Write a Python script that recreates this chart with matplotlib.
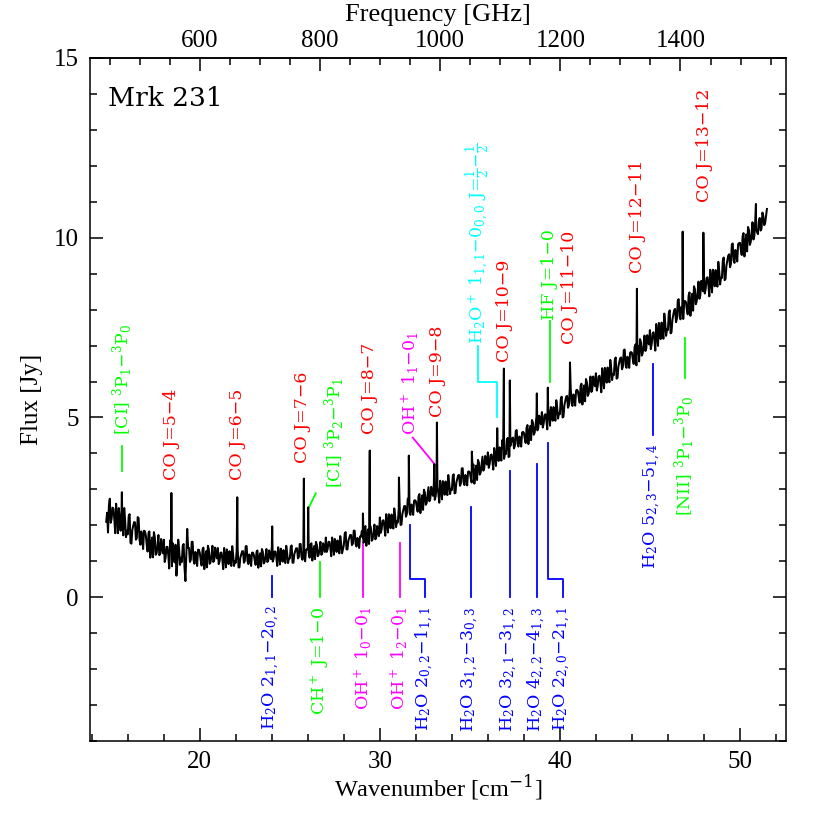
import numpy as np
import matplotlib
matplotlib.use("Agg")
import matplotlib.pyplot as plt
from matplotlib.ticker import MultipleLocator

# ---------------- data ----------------
# spectrum: values every 0.1 cm^-1 from 14.8 cm^-1 ...
wn_start = 14.8
wn_step = 0.1
flux_cont = [
    2.1, 1.8,
    2.74, 2.18, 2.47, 1.78, 2.26, 2.48, 1.85, 2.0, 2.48, 1.67,
    1.75, 2.31, 1.49, 1.98, 2.08, 1.65, 2.2, 1.46, 1.68, 1.85,
    1.72, 1.27, 1.83, 1.44, 1.11, 1.67, 1.22, 1.73, 1.21, 1.36,
    1.6, 1.1, 1.4, 0.8, 1.28, 1.5, 0.97, 0.6, 1.6, 0.9,
    0.98, 1.48, 0.45, 1.9, 1.37, 1.04, 1.54, 0.93, 1.15, 1.32,
    1.23, 0.88, 1.38, 1.08, 0.83, 1.33, 0.98, 1.43, 1.03, 1.18,
    1.37, 1.01, 1.24, 0.78, 1.15, 1.33, 0.92, 1.05, 1.42, 0.87,
    0.96, 1.37, 0.83, 1.19, 1.28, 1.01, 1.42, 0.92, 1.1, 1.24,
    1.18, 0.9, 1.3, 1.06, 0.86, 1.26, 0.98, 1.34, 1.02, 1.14,
    1.39, 1.07, 1.27, 0.87, 1.19, 1.35, 0.99, 1.11, 1.43, 0.95,
    1.08, 1.44, 0.96, 1.28, 1.36, 1.12, 1.48, 1.04, 1.2, 1.32,
    1.38, 1.1, 1.5, 1.26, 1.06, 1.46, 1.18, 1.54, 1.22, 1.34,
    1.66, 1.34, 1.54, 1.14, 1.46, 1.62, 1.26, 1.38, 1.7, 1.22,
    1.45, 1.81, 1.33, 1.65, 1.73, 1.49, 1.85, 1.41, 1.57, 1.69,
    1.84, 1.52, 1.98, 1.7, 1.48, 1.93, 1.61, 2.02, 1.66, 1.8,
    2.22, 1.89, 2.14, 1.71, 2.1, 2.31, 1.92, 2.08, 2.47, 1.95,
    2.08, 2.53, 2.02, 2.42, 2.54, 2.31, 2.75, 2.29, 2.5, 2.68,
    2.67, 2.38, 2.87, 2.62, 2.43, 2.91, 2.62, 3.06, 2.73, 2.9,
    3.15, 2.81, 3.07, 2.63, 3.03, 3.23, 2.85, 3.0, 3.4, 2.87,
    2.98, 3.42, 2.9, 3.29, 3.4, 3.16, 3.59, 3.12, 3.32, 3.49,
    3.47, 3.19, 3.69, 3.45, 3.26, 3.75, 3.47, 3.91, 3.59, 3.77,
    4.03, 3.71, 3.97, 3.55, 3.95, 4.17, 3.79, 3.96, 4.37, 3.85,
    3.98, 4.43, 3.92, 4.32, 4.44, 4.21, 4.65, 4.19, 4.4, 4.58,
    4.57, 4.29, 4.79, 4.55, 4.37, 4.86, 4.58, 5.03, 4.71, 4.89,
    5.15, 4.83, 5.09, 4.67, 5.07, 5.29, 4.91, 5.08, 5.48, 4.97,
    5.09, 5.58, 5.02, 5.46, 5.6, 5.34, 5.83, 5.32, 5.56, 5.75,
    5.73, 5.41, 5.94, 5.67, 5.45, 5.98, 5.66, 6.14, 5.77, 5.95,
    6.23, 5.87, 6.16, 5.7, 6.14, 6.38, 5.97, 6.16, 6.6, 6.04,
    6.18, 6.67, 6.1, 6.54, 6.67, 6.41, 6.89, 6.38, 6.61, 6.8,
    6.8, 6.49, 7.03, 6.77, 6.56, 7.1, 6.79, 7.28, 6.92, 7.11,
    7.43, 7.04, 7.37, 6.86, 7.36, 7.63, 7.18, 7.39, 7.89, 7.27,
    7.43, 7.98, 7.37, 7.86, 8.02, 7.74, 8.29, 7.73, 8.0, 8.22,
    8.21, 7.87, 8.48, 8.19, 7.97, 8.57, 8.23, 8.78, 8.39, 8.61,
    8.98, 8.58, 8.9, 8.37, 8.86, 9.11, 8.65, 8.84, 9.33, 8.7,
    8.88, 9.45, 8.85, 9.36, 9.54, 9.27, 9.84, 9.3, 9.58, 9.82,
    9.86, 9.52, 10.13, 9.84, 9.62, 10.22, 9.88, 10.43, 10.04, 10.26,
    10.1, 10.55, 10.25, 10.6, 10.4, 10.8,
]
# ... and the in-between samples at 14.85, 14.95, ... cm^-1
flux_mid = [
    2.35, 2.55,
    2.07, 2.49, 2.18, 2.6, 1.78, 2.2, 2.35, 1.72, 2.15, 1.85,
    2.26, 1.51, 1.87, 2.09, 1.6, 2.23, 1.6, 1.83, 1.34, 1.83,
    1.46, 1.79, 1.1, 1.66, 1.81, 1.18, 1.44, 1.17, 1.62, 1.22,
    0.98, 1.4, 1.16, 1.58, 0.86, 1.28, 1.46, 0.92, 1.34, 1.1,
    1.43, 0.82, 1.15, 1.37, 0.98, 1.54, 1.04, 1.26, 0.87, 1.32,
    1.03, 1.33, 0.78, 1.28, 1.43, 0.93, 1.18, 0.98, 1.38, 1.08,
    0.92, 1.24, 1.05, 1.37, 0.83, 1.15, 1.28, 0.87, 1.19, 1.01,
    1.33, 0.83, 1.1, 1.28, 0.96, 1.42, 1.01, 1.19, 0.87, 1.24,
    1.02, 1.26, 0.82, 1.22, 1.34, 0.94, 1.14, 0.98, 1.3, 1.06,
    0.99, 1.27, 1.11, 1.39, 0.91, 1.19, 1.31, 0.95, 1.23, 1.07,
    1.4, 0.96, 1.2, 1.36, 1.08, 1.48, 1.12, 1.28, 1.0, 1.32,
    1.22, 1.46, 1.02, 1.42, 1.54, 1.14, 1.34, 1.18, 1.5, 1.26,
    1.26, 1.54, 1.38, 1.66, 1.18, 1.46, 1.58, 1.22, 1.5, 1.34,
    1.77, 1.33, 1.57, 1.73, 1.45, 1.85, 1.49, 1.65, 1.37, 1.69,
    1.66, 1.93, 1.43, 1.89, 2.02, 1.57, 1.8, 1.61, 1.98, 1.7,
    1.79, 2.13, 1.97, 2.31, 1.8, 2.14, 2.3, 1.91, 2.26, 2.11,
    2.47, 2.01, 2.31, 2.53, 2.24, 2.74, 2.36, 2.58, 2.29, 2.7,
    2.51, 2.81, 2.34, 2.83, 2.99, 2.57, 2.83, 2.67, 3.07, 2.82,
    2.71, 3.06, 2.89, 3.24, 2.72, 3.07, 3.22, 2.84, 3.18, 3.02,
    3.37, 2.89, 3.19, 3.39, 3.1, 3.58, 3.2, 3.4, 3.11, 3.5,
    3.31, 3.62, 3.16, 3.66, 3.82, 3.41, 3.68, 3.52, 3.93, 3.69,
    3.6, 3.95, 3.8, 4.15, 3.65, 4.0, 4.17, 3.8, 4.15, 4.01,
    4.37, 3.9, 4.21, 4.42, 4.14, 4.63, 4.26, 4.47, 4.19, 4.6,
    4.41, 4.72, 4.26, 4.76, 4.93, 4.52, 4.79, 4.64, 5.05, 4.81,
    4.72, 5.07, 4.92, 5.27, 4.77, 5.12, 5.29, 4.91, 5.27, 5.13,
    5.51, 5.0, 5.34, 5.58, 5.27, 5.81, 5.4, 5.64, 5.33, 5.77,
    5.55, 5.88, 5.36, 5.89, 6.07, 5.6, 5.88, 5.71, 6.14, 5.87,
    5.75, 6.14, 5.98, 6.37, 5.81, 6.2, 6.39, 5.98, 6.37, 6.21,
    6.6, 6.08, 6.42, 6.65, 6.34, 6.87, 6.46, 6.69, 6.38, 6.82,
    6.62, 6.96, 6.45, 6.99, 7.18, 6.72, 7.01, 6.85, 7.29, 7.03,
    6.9, 7.34, 7.16, 7.6, 6.99, 7.43, 7.64, 7.19, 7.63, 7.46,
    7.9, 7.34, 7.72, 7.99, 7.65, 8.26, 7.81, 8.08, 7.74, 8.24,
    8.01, 8.39, 7.83, 8.44, 8.65, 8.15, 8.48, 8.3, 8.8, 8.51,
    8.45, 8.88, 8.68, 9.11, 8.48, 8.91, 9.1, 8.64, 9.07, 8.89,
    9.36, 8.82, 9.22, 9.5, 9.18, 9.81, 9.37, 9.66, 9.34, 9.85,
    9.67, 10.04, 9.48, 10.09, 10.3, 9.8, 10.13, 9.95, 10.45, 10.16,
    10.45, 10.2, 10.7, 10.35, 10.6,
]
# narrow emission-line spikes (observed wavenumber, peak flux)
peak_wn = [15.67, 18.42, 22.08, 24.02, 25.78, 26.02, 29.06, 29.44, 31.06, 31.61,
           33.02, 33.17, 35.11, 36.52, 36.89, 37.22, 38.72, 39.33, 40.56, 44.28,
           46.82, 47.97, 50.89]
peak_flux = [2.92, 2.9, 2.78, 1.97, 3.3, 2.5, 2.33, 4.08, 3.33, 3.94,
             3.7, 4.86, 4.05, 4.7, 6.36, 6.03, 5.67, 5.83, 6.53, 8.58,
             10.17, 10.14, 10.94]

RED, GREEN, BLUE, MAG, CYAN = "#ff0000", "#00ff00", "#0000ff", "#ff00ff", "#00ffff"

# labels above the spectrum: (text, wavenumber, flux at text base, colour)
top_labels = [
    ("[CI] $^3$P$_1$\u2212$^3$P$_0$", 15.72, 4.5, GREEN),
    ("CO J=5\u22124", 18.42, 3.25, RED),
    ("CO J=6\u22125", 22.08, 3.25, RED),
    ("CO J=7\u22126", 25.72, 3.72, RED),
    ("[CI] $^3$P$_2$\u2212$^3$P$_1$", 27.5, 3.03, GREEN),
    ("CO J=8\u22127", 29.44, 4.55, RED),
    ("OH$^+$ 1$_1$\u22120$_1$", 31.7, 4.5, MAG),
    ("CO J=9\u22128", 33.2, 5.0, RED),
    ("H$_2$O$^+$ 1$_{1,1}$\u22120$_{0,0}$ J=$\\frac{1}{2}$\u2212$\\frac{1}{2}$", 35.44, 7.05, CYAN),
    ("CO J=10\u22129", 36.94, 6.53, RED),
    ("HF J=1\u22120", 39.44, 7.72, GREEN),
    ("CO J=11\u221210", 40.56, 7.05, RED),
    ("CO J=12\u221211", 44.33, 9.03, RED),
    ("CO J=13\u221212", 48.06, 11.0, RED),
]
# labels below the spectrum: (text, wavenumber, flux at text top, colour)
bottom_labels = [
    ("H$_2$O 2$_{1,1}$\u22122$_{0,2}$", 24.0, -0.22, BLUE),
    ("CH$^+$ J=1\u22120", 26.67, -0.27, GREEN),
    ("OH$^+$ 1$_0$\u22120$_1$", 29.06, -0.27, MAG),
    ("OH$^+$ 1$_2$\u22120$_1$", 31.11, -0.27, MAG),
    ("H$_2$O 2$_{0,2}$\u22121$_{1,1}$", 32.5, -0.27, BLUE),
    ("H$_2$O 3$_{1,2}$\u22123$_{0,3}$", 35.06, -0.27, BLUE),
    ("H$_2$O 3$_{2,1}$\u22123$_{1,2}$", 37.22, -0.27, BLUE),
    ("H$_2$O 4$_{2,2}$\u22124$_{1,3}$", 38.72, -0.27, BLUE),
    ("H$_2$O 2$_{2,0}$\u22122$_{1,1}$", 40.17, -0.27, BLUE),
    ("H$_2$O 5$_{2,3}$\u22125$_{1,4}$", 45.17, 4.28, BLUE),
    ("[NII] $^3$P$_1$\u2212$^3$P$_0$", 46.94, 5.6, GREEN),
]
# marker lines: (list of wavenumbers, list of fluxes, colour)
markers = [
    ([15.67, 15.67], [3.5, 4.22], GREEN),
    ([26.06, 26.44], [2.5, 2.89], GREEN),
    ([31.83, 33.06], [4.44, 3.69], MAG),
    ([35.44, 35.44, 36.5, 36.5], [7.0, 6.0, 6.0, 5.0], CYAN),
    ([39.44, 39.44], [6.0, 7.68], GREEN),
    ([24.0, 24.0], [0.58, 0.0], BLUE),
    ([26.67, 26.67], [0.97, 0.0], GREEN),
    ([29.06, 29.06], [1.5, 0.0], MAG),
    ([31.11, 31.11], [1.5, 0.0], MAG),
    ([31.67, 31.67, 32.5, 32.5], [2.0, 0.5, 0.5, 0.0], BLUE),
    ([35.06, 35.06], [2.5, 0.0], BLUE),
    ([37.22, 37.22], [3.5, 0.0], BLUE),
    ([38.72, 38.72], [3.7, 0.0], BLUE),
    ([39.33, 39.33, 40.17, 40.17], [4.28, 0.5, 0.5, 0.0], BLUE),
    ([45.17, 45.17], [6.5, 4.5], BLUE),
    ([46.94, 46.94], [7.2, 6.1], GREEN),
]
GHZ_PER_CM = 29.9792458

# ---------------- plot ----------------
plt.rcParams["font.family"] = ["DejaVu Serif"]
plt.rcParams["mathtext.fontset"] = "dejavuserif"

fig = plt.figure(figsize=(8.3, 8.3), dpi=100)
ax = fig.add_axes([90 / 830, 1 - 741 / 830, 696 / 830, 683 / 830])

wn_grid = wn_start + wn_step * np.arange(len(flux_cont))
wn_half = wn_start + wn_step / 2 + wn_step * np.arange(len(flux_mid))
wn_all = np.concatenate([wn_grid, wn_half, peak_wn])
fl_all = np.concatenate([flux_cont, flux_mid, peak_flux])
order = np.argsort(wn_all, kind="stable")
ax.plot(wn_all[order], fl_all[order], color="black", lw=1.45, zorder=3)

for xs, ys, c in markers:
    ax.plot(xs, ys, color=c, lw=1.3, zorder=2)

lab_fs = 12.5
for txt, x, y, c in top_labels:
    ax.text(x, y, txt, rotation=90, ha="center", va="bottom", color=c,
            fontsize=lab_fs)
for txt, x, y, c in bottom_labels:
    ax.text(x, y, txt, rotation=90, ha="center", va="top", color=c,
            fontsize=lab_fs)

ax.text(0.026, 0.941, "Mrk 231", transform=ax.transAxes, fontsize=19,
        ha="left", va="center")

ax.set_xlim(13.9, 52.56)
ax.set_ylim(-4, 15)

tick_font = "Liberation Serif"
ax.xaxis.set_major_locator(MultipleLocator(10))
ax.xaxis.set_minor_locator(MultipleLocator(2))
ax.yaxis.set_major_locator(MultipleLocator(5))
ax.yaxis.set_minor_locator(MultipleLocator(1))
ax.tick_params(which="both", direction="in", top=False, right=True,
               width=1.1, labelsize=18)
ax.tick_params(which="major", length=9.5)
ax.tick_params(which="minor", length=5)
ax.tick_params(axis="x", pad=7)
ax.tick_params(axis="y", pad=8)
for lab in ax.get_xticklabels() + ax.get_yticklabels():
    lab.set_fontfamily(tick_font)

sec = ax.secondary_xaxis("top", functions=(lambda w: w * GHZ_PER_CM,
                                           lambda f: f / GHZ_PER_CM))
sec.xaxis.set_major_locator(MultipleLocator(200))
sec.xaxis.set_minor_locator(MultipleLocator(50))
sec.tick_params(which="both", direction="in", width=1.1, labelsize=18, pad=4.5)
sec.tick_params(which="major", length=9.5)
sec.tick_params(which="minor", length=5)
for lab in sec.get_xticklabels():
    lab.set_fontfamily(tick_font)
sec.set_xlabel("Frequency [GHz]", fontsize=19, fontfamily=tick_font, labelpad=6)
sec.spines["top"].set_linewidth(1.1)

ax.set_xlabel("Wavenumber [cm$^{-1}$]", fontsize=17.5, fontfamily=tick_font, labelpad=0)
ax.set_ylabel("Flux [Jy]", fontsize=18, fontfamily=tick_font, labelpad=8)
for s in ax.spines.values():
    s.set_linewidth(1.1)

fig.savefig("out.png", dpi=100)
